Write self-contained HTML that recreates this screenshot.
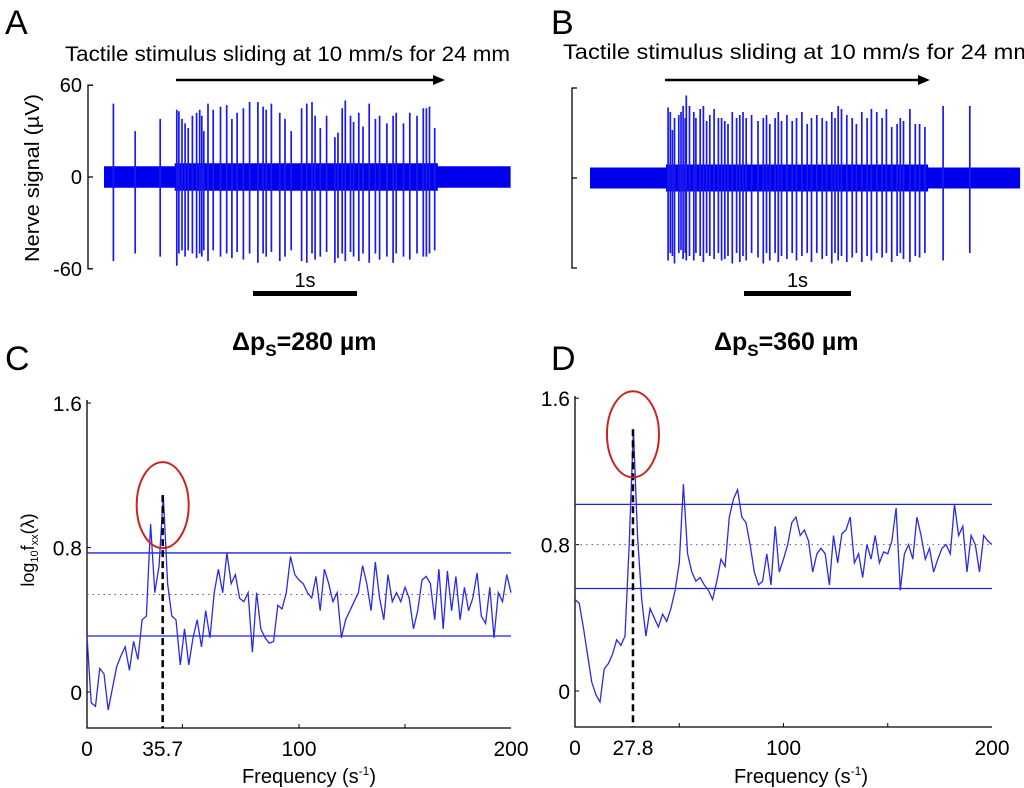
<!DOCTYPE html>
<html><head><meta charset="utf-8"><style>
body{margin:0;background:#fff;}
svg{display:block;font-family:"Liberation Sans",Arial,sans-serif;}
</style></head><body>
<svg id="fig" width="1024" height="788" viewBox="0 0 1024 788">
<text x="5" y="34" font-size="34">A</text>
<text x="551" y="34" font-size="34">B</text>
<text x="5" y="370" font-size="34">C</text>
<text x="551" y="370" font-size="34">D</text>
<text x="65" y="61" font-size="21" textLength="445" lengthAdjust="spacingAndGlyphs">Tactile stimulus sliding at 10 mm/s for 24 mm</text>
<text x="563" y="59" font-size="21" textLength="470" lengthAdjust="spacingAndGlyphs">Tactile stimulus sliding at 10 mm/s for 24 mm</text>
<text x="232" y="350" font-size="25" font-weight="bold">Δp<tspan font-size="17" dy="6">S</tspan><tspan dy="-6">=280 µm</tspan></text>
<text x="714" y="350" font-size="25" font-weight="bold">Δp<tspan font-size="17" dy="6">S</tspan><tspan dy="-6">=360 µm</tspan></text>
<text transform="translate(39,178) rotate(-90)" text-anchor="middle" font-size="20" textLength="168" lengthAdjust="spacingAndGlyphs">Nerve signal (µV)</text>
<text transform="translate(34,550) rotate(-90)" text-anchor="middle" font-size="18">log<tspan font-size="11" dy="4">10</tspan><tspan dy="-4">f</tspan><tspan font-size="11" dy="4">xx</tspan><tspan dy="-4">(λ)</tspan></text>
<text x="309" y="783" text-anchor="middle" font-size="20">Frequency (s<tspan font-size="12" dy="-8">-1</tspan><tspan dy="8">)</tspan></text>
<text x="801" y="783" text-anchor="middle" font-size="20">Frequency (s<tspan font-size="12" dy="-8">-1</tspan><tspan dy="8">)</tspan></text>
</svg>
<script>
// ---- Panel A data ----
const spikeTimesA=[0.09,0.30,0.54,0.70,0.72,0.75,0.78,0.81,0.85,0.89,0.92,0.94,0.96,1.00,1.05,1.12,1.18,1.23,1.28,1.34,1.40,1.48,1.53,1.56,1.61,1.69,1.74,1.80,1.90,1.95,2.00,2.03,2.08,2.14,2.22,2.25,2.29,2.32,2.37,2.40,2.45,2.49,2.55,2.61,2.65,2.72,2.78,2.81,2.88,2.94,3.01,3.07,3.10,3.13,3.18];
const spikePeaksA=[48,30,38,44,43,38,35,32,40,42,44,40,30,48,44,46,47,38,42,45,49,49,46,44,48,42,38,30,45,48,49,40,32,40,26,29,45,50,40,36,42,33,48,38,40,35,40,42,35,42,40,45,45,46,32];
const spikeTroughsA=[-55,-50,-52,-58,-50,-48,-52,-48,-50,-53,-50,-52,-48,-55,-48,-52,-50,-53,-49,-54,-50,-56,-50,-52,-49,-55,-52,-48,-55,-56,-50,-54,-52,-49,-56,-53,-50,-55,-49,-52,-55,-50,-56,-50,-54,-52,-56,-50,-52,-54,-50,-52,-52,-50,-48];
// ---- Panel B data ----
const spikeTimesB=[0.73,0.75,0.77,0.79,0.83,0.85,0.87,0.89,0.90,0.93,0.97,0.99,1.03,1.06,1.09,1.12,1.16,1.20,1.23,1.26,1.29,1.33,1.37,1.40,1.43,1.46,1.51,1.57,1.62,1.65,1.68,1.73,1.76,1.79,1.84,1.89,1.93,1.98,2.03,2.07,2.12,2.17,2.21,2.26,2.29,2.32,2.35,2.40,2.45,2.49,2.54,2.59,2.63,2.68,2.73,2.77,2.82,2.87,2.90,2.93,2.99,3.04,3.08,3.13,3.30,3.55];
const spikePeaksB=[47,44,32,40,42,44,48,40,55,48,44,40,46,48,38,42,46,40,40,38,36,44,40,42,44,40,42,38,40,42,36,40,44,38,42,38,40,44,36,40,42,40,38,44,40,48,46,42,40,36,44,40,46,44,40,46,34,36,40,38,46,36,36,34,48,48];
const spikeTroughsB=[-55,-50,-52,-57,-50,-48,-54,-50,-55,-52,-55,-50,-52,-56,-50,-52,-54,-50,-55,-54,-52,-57,-50,-56,-52,-55,-50,-53,-57,-50,-55,-50,-56,-52,-54,-50,-55,-52,-50,-56,-50,-54,-52,-57,-50,-55,-52,-56,-53,-50,-56,-52,-55,-50,-53,-50,-56,-52,-50,-54,-56,-52,-53,-50,-55,-50];
const noiseLevels=[7,9]; // baseline, during stimulus (µV)
const yTicksA=[60,0,-60];
// ---- Panel C/D data ----
const freqs=[];for(let f=0;f<=200;f+=2)freqs.push(f);
const specC=[.31,-.06,-.08,.13,.1,-.1,.02,.14,.2,.25,.12,.28,.18,.4,.42,.93,.55,.7,1.09,.6,.42,.4,.15,.35,.15,.3,.4,.25,.45,.3,.55,.68,.55,.77,.6,.65,.52,.5,.55,.22,.55,.35,.3,.27,.28,.48,.46,.55,.75,.65,.62,.6,.55,.52,.64,.45,.68,.6,.5,.55,.3,.4,.45,.5,.55,.7,.6,.45,.72,.52,.4,.65,.5,.55,.5,.58,.52,.35,.45,.62,.64,.6,.4,.68,.35,.67,.45,.64,.4,.58,.45,.52,.66,.42,.38,.58,.3,.55,.5,.65,.55];
const specD=[.5,.48,.35,.2,.05,-.02,-.06,.12,.15,.2,.28,.25,.3,.8,1.43,.85,.5,.3,.45,.4,.35,.42,.38,.45,.55,.7,1.13,.75,.65,.6,.62,.58,.55,.5,.6,.72,.68,.95,1.05,1.1,.95,.92,.8,.65,.58,.6,.75,.58,.9,.65,.72,.8,.92,.95,.85,.88,.82,.65,.75,.78,.75,.58,.85,.7,.86,.88,.95,.7,.75,.62,.8,.72,.85,.7,.76,.75,.82,1.0,.55,.75,.8,.72,.95,.85,.72,.78,.65,.72,.78,.8,.75,1.02,.85,.9,.65,.85,.8,.65,.85,.82,.8];
const boundsC=[0.77,0.54,0.31]; // upper, mean, lower
const boundsD=[1.02,0.8,0.56];
const peakFreqC=35.7, peakFreqD=27.8;
const yTicksSpec=[1.6,0.8,0];

const svg=document.getElementById('fig');
const NS='http://www.w3.org/2000/svg';
function mk(tag,attrs,name){const e=document.createElementNS(NS,tag);for(const k in attrs)e.setAttribute(k,attrs[k]);


svg.appendChild(e);return e;}

function trace(p){
  const sx=t=>p.x0+t*p.pxs, sy=v=>p.y0-v*p.ys;
  let d=`M${p.ax+5},${sy(60)}H${p.ax}V${sy(-60)}H${p.ax+5}M${p.ax},${sy(0)}H${p.ax+5}`;
  mk('path',{d:d,stroke:'#000','stroke-width':1.3,fill:'none'},p.id+'-y-axis');
  if(p.labels){yTicksA.forEach(v=>{const t=mk('text',{x:p.ax-6,y:sy(v)+7,'text-anchor':'end','font-size':20},p.id+'-y-tick-label');t.textContent=v;});}
  const ts=p.times, t0=ts[p.stimStart]-0.02, t1=ts[ts.length-1-p.stimEndOff]+0.03;
  let band=`M${sx(0)},${sy(noiseLevels[0])}H${sx(t0)}V${sy(noiseLevels[1])}H${sx(t1)}V${sy(noiseLevels[0])}H${sx(p.tEnd)}V${sy(-noiseLevels[0])}H${sx(t1)}V${sy(-noiseLevels[1])}H${sx(t0)}V${sy(-noiseLevels[0])}H${sx(0)}Z`;
  mk('path',{d:band,fill:'#0000ee'},p.id+'-noise-band');
  let sd='';
  ts.forEach((t,i)=>{sd+=`M${sx(t).toFixed(1)},${sy(p.peaks[i]).toFixed(1)}V${sy(p.troughs[i]).toFixed(1)}`;});
  mk('path',{d:sd,stroke:'#1a1aee','stroke-width':1.7,fill:'none'},p.id+'-spikes');
  mk('path',{d:`M${p.arrow[0]},80H${p.arrow[1]-10}`,stroke:'#000','stroke-width':2.5},p.id+'-stimulus-arrow');
  mk('path',{d:`M${p.arrow[1]},80l-12,-5v10z`,fill:'#000'},p.id+'-arrow-head');
  mk('rect',{x:p.bar,y:291,width:p.pxs,height:5,fill:'#000'},p.id+'-scale-bar');
  const l=mk('text',{x:p.bar+p.pxs/2,y:287,'text-anchor':'middle','font-size':20},p.id+'-scale-label');l.textContent='1s';
}
trace({id:'a',x0:104,pxs:104,y0:177,ys:1.53,ax:88,labels:true,times:spikeTimesA,peaks:spikePeaksA,troughs:spikeTroughsA,stimStart:3,stimEndOff:0,tEnd:3.91,arrow:[176,445],bar:253});
trace({id:'b',x0:590,pxs:107,y0:178,ys:1.5,ax:572,labels:false,times:spikeTimesB,peaks:spikePeaksB,troughs:spikeTroughsB,stimStart:0,stimEndOff:2,tEnd:4.02,arrow:[665,930],bar:744});

function spec(p){
  const sx=f=>p.x0+f*(p.x1-p.x0)/200, sy=v=>p.y0-v*p.ys;
  mk('path',{d:`M${p.x0},${p.top}V${p.bot}H${p.x1}`,stroke:'#000','stroke-width':1.3,fill:'none'},p.id+'-axes');
  yTicksSpec.forEach(v=>{mk('path',{d:`M${p.x0},${sy(v)}h4`,stroke:'#000'},p.id+'-y-tick');
    const t=mk('text',{x:p.x0-5,y:sy(v)+8,'text-anchor':'end','font-size':21},p.id+'-y-tick-label');t.textContent=v;});
  p.ticks.forEach(f=>mk('path',{d:`M${sx(f)},${p.bot}v-4`,stroke:'#000'},p.id+'-x-tick'));
  [[0,'0'],[p.peak,String(p.peak)],[100,'100'],[200,'200']].forEach(([f,s])=>{
    const t=mk('text',{x:sx(f),y:p.bot+28,'text-anchor':'middle','font-size':21},p.id+'-x-tick-label');t.textContent=s;});
  mk('path',{d:`M${p.x0},${sy(p.bounds[0])}H${p.x1}M${p.x0},${sy(p.bounds[2])}H${p.x1}`,stroke:'#2222dd','stroke-width':1.3},p.id+'-confidence-bounds');
  mk('path',{d:`M${p.x0},${sy(p.bounds[1])}H${p.x1}`,stroke:'#5555dd','stroke-width':1,'stroke-dasharray':'1.5 4'},p.id+'-mean-line');
  let d='';p.vals.forEach((v,i)=>{d+=(i?'L':'M')+sx(freqs[i]).toFixed(1)+','+sy(v).toFixed(1);});
  mk('path',{d:d,stroke:'#2a2ae8','stroke-width':1.3,fill:'none'},p.id+'-spectrum-line');
  const pv=Math.max(...p.vals);
  mk('path',{d:`M${sx(p.peak)},${sy(pv)}V${p.bot}`,stroke:'#000','stroke-width':2.5,'stroke-dasharray':'7 4'},p.id+'-peak-marker');
  mk('ellipse',{cx:sx(p.peak),cy:sy(pv)+(p.id=='c'?10:5),rx:26,ry:43,fill:'none',stroke:'#cc2222','stroke-width':2},p.id+'-peak-circle');
}
spec({id:'c',x0:87,x1:511,y0:692,ys:180.6,top:400,bot:728,vals:specC,bounds:boundsC,peak:peakFreqC,ticks:[45,100,150]});
spec({id:'d',x0:575,x1:992,y0:691,ys:183,top:396,bot:727,vals:specD,bounds:boundsD,peak:peakFreqD,ticks:[50,100,150]});
</script>
</body></html>
